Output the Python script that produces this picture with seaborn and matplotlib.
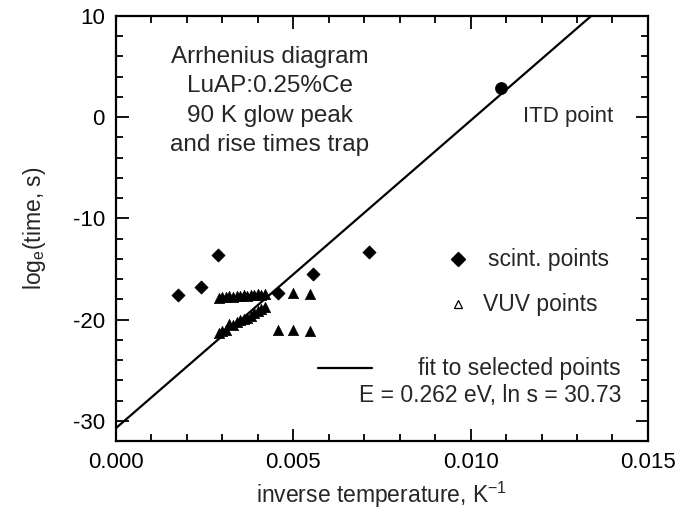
import matplotlib
matplotlib.use("Agg")
import matplotlib.pyplot as plt
from matplotlib.ticker import MultipleLocator
import seaborn as sns
import pandas as pd

# ---- data ----
scint_x = [0.00174, 0.00239, 0.00287, 0.00458, 0.00556, 0.00714]
scint_y = [-17.6, -16.8, -13.6, -17.4, -15.5, -13.3]

vuv_x = [0.0029, 0.0030, 0.0031, 0.0032, 0.0033, 0.0034, 0.0035, 0.0036,
         0.0037, 0.0038, 0.0039, 0.0040, 0.0041, 0.0042, 0.0050, 0.00547,
         0.0029, 0.0030, 0.0031, 0.0032, 0.0033, 0.0034, 0.0035, 0.0036,
         0.0037, 0.0038, 0.0039, 0.0040, 0.0041, 0.0042, 0.00456, 0.0050, 0.00547]
vuv_y = [-17.9, -17.8, -17.8, -17.7, -17.8, -17.7, -17.7, -17.6,
         -17.7, -17.6, -17.6, -17.5, -17.6, -17.5, -17.4, -17.5,
         -21.3, -21.1, -21.0, -20.4, -20.5, -20.2, -20.0, -19.9,
         -19.8, -19.6, -19.4, -19.2, -19.0, -18.8, -21.0, -21.0, -21.1]

itd_x = [0.01087]
itd_y = [2.9]

fit_x = [0.0, 0.01340]
fit_y = [-30.73, 10.0]

x_ticks = [0.000, 0.005, 0.010, 0.015]
x_ticklabels = ["0.000", "0.005", "0.010", "0.015"]
y_ticks = [-30, -20, -10, 0, 10]
y_ticklabels = ["-30", "-20", "-10", "0", "10"]

# ---- plotting ----
sns.set_theme(style="ticks")
plt.rcParams["font.family"] = ["Liberation Sans", "DejaVu Sans"]
plt.rcParams["mathtext.default"] = "regular"
plt.rcParams["axes.unicode_minus"] = False

fig = plt.figure(figsize=(6.77, 5.13), dpi=100)
ax = fig.add_axes([0.1713, 0.1404, 0.7857, 0.8284])

df_s = pd.DataFrame({"x": scint_x, "y": scint_y})
df_v = pd.DataFrame({"x": vuv_x, "y": vuv_y})
df_i = pd.DataFrame({"x": itd_x, "y": itd_y})
df_f = pd.DataFrame({"x": fit_x, "y": fit_y})

sns.lineplot(data=df_f, x="x", y="y", ax=ax, color="black", lw=1.6, zorder=3)
sns.scatterplot(data=df_s, x="x", y="y", ax=ax, marker="D", s=45,
                color="black", edgecolor="black", linewidth=0.5, zorder=4)
sns.scatterplot(data=df_v, x="x", y="y", ax=ax, marker="^", s=55,
                color="black", edgecolor="black", linewidth=0.5, zorder=4)
sns.scatterplot(data=df_i, x="x", y="y", ax=ax, marker="o", s=75,
                color="black", edgecolor="black", linewidth=0.5, zorder=4)

ax.set_xlim(0, 0.015)
ax.set_ylim(-32, 10)
ax.set_xticks(x_ticks)
ax.set_xticklabels(x_ticklabels)
ax.set_yticks(y_ticks)
ax.set_yticklabels(y_ticklabels)
ax.xaxis.set_minor_locator(MultipleLocator(0.001))
ax.yaxis.set_minor_locator(MultipleLocator(2))
ax.tick_params(which="both", direction="in", top=True, right=True,
               labelsize=16, width=1.3, color="black", labelcolor="black", pad=8)
ax.tick_params(which="major", length=9)
ax.tick_params(which="minor", length=5)
for sp in ax.spines.values():
    sp.set_linewidth(1.6)
    sp.set_color("black")

ax.set_xlabel("inverse temperature, K$^{-1}$", fontsize=16.5, labelpad=5)
ax.set_ylabel("log$_e$(time, s)", fontsize=16.5, labelpad=18)

ax.text(0.00434, 1.6, "Arrhenius diagram\nLuAP:0.25%Ce\n90 K glow peak\nand rise times trap",
        ha="center", va="center", multialignment="center", fontsize=17.5,
        linespacing=1.42)
ax.text(0.01148, 0.1, "ITD point", ha="left", va="center", fontsize=16)

# legend-like keys
ax.plot([0.643], [0.428], marker="D", ms=7, color="black", transform=ax.transAxes, ls="none")
ax.text(0.01049, -14.06, "scint. points", ha="left", va="center", fontsize=16.5)
ax.plot([0.643], [0.322], marker="^", ms=6, mfc="white", mec="black", mew=0.9,
        transform=ax.transAxes, ls="none")
ax.text(0.01035, -18.5, "VUV points", ha="left", va="center", fontsize=16.5)
ax.plot([0.380, 0.481], [0.172, 0.172], color="black", lw=1.6, transform=ax.transAxes)
ax.text(0.01424, -24.85, "fit to selected points", ha="right", va="center", fontsize=16.5)
ax.text(0.01424, -27.5, "E = 0.262 eV, ln s = 30.73", ha="right", va="center", fontsize=16.5)

fig.savefig("out.png", dpi=100)
